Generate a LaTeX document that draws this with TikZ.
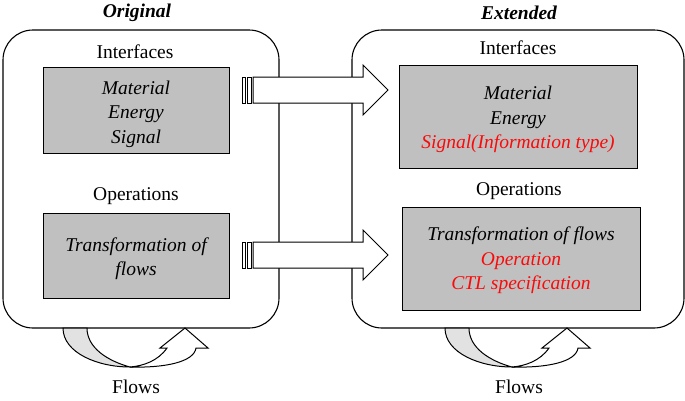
\documentclass[tikz,border=0pt]{standalone}
\usepackage{fontspec}
\setmainfont{Liberation Serif}
\usetikzlibrary{positioning}

\definecolor{boxgray}{RGB}{192,192,192}
\definecolor{flowgray}{RGB}{226,226,226}
\definecolor{extred}{RGB}{250,10,10}
\newcommand{\diafont}{\fontsize{19.5}{24.5}\selectfont}

\tikzset{
  panel/.style={draw, line width=1.1pt, rounded corners=30pt},
  graybox/.style={draw, line width=1pt, fill=boxgray},
  boxtext/.style={align=center, font=\diafont\itshape},
  caption/.style={font=\diafont},
  heading/.style={font=\diafont\bfseries\itshape},
  pics/fatarrow/.style={code={
    \draw[line width=0.9pt] (-11,-13) rectangle (-8,13);
    \draw[line width=0.9pt] (-6,-13) rectangle (-2,13);
    \draw[line width=1pt, fill=white] (0,-13) -- (110,-13) -- (110,-25) -- (135,0)
      -- (110,25) -- (110,13) -- (0,13) -- cycle;
  }},
  pics/flowloop/.style={code={
    \draw[line width=1pt, fill=flowgray] (0,0) .. controls (0,25) and (35,39) .. (67,39)
      .. controls (45,33) and (24,20) .. (24,0) -- cycle;
    \draw[line width=1pt, fill=white] (67,39) .. controls (102,40) and (131,34) .. (133,20)
      -- (145,20) -- (122,0) -- (97,20) -- (104,20)
      .. controls (95,33) and (80,38) .. (67,39) -- cycle;
  }}
}

\begin{document}
\begin{tikzpicture}[x=1pt, y=-1pt]
  \useasboundingbox (0,0) rectangle (685,400);

  % the two models
  \node[panel, minimum width=276, minimum height=298] (orig) at (141,179) {};
  \node[panel, minimum width=332, minimum height=298] (ext) at (518,179) {};

  \node[heading] (origtitle) at (137,13) {Original};
  \node[heading] (exttitle) at (519,13) {Extended};

  % original
  \node[caption] (origiflbl) at (135,52) {Interfaces};
  \node[graybox, minimum width=186, minimum height=86] (origif) at (136,110) {};
  \node[boxtext] (origiftxt) at ([yshift=-4pt]origif.center) {Material\\Energy\\Signal};
  \node[caption] (origoplbl) at (136,196) {Operations};
  \node[graybox, minimum width=186, minimum height=85] (origop) at (136,255.5) {};
  \node[boxtext] (origoptxt) at ([yshift=-3pt]origop.center) {Transformation of\\flows};

  % extended
  \node[caption] (extiflbl) at (518,48) {Interfaces};
  \node[graybox, minimum width=238, minimum height=103] (extif) at (518,116.5) {};
  \node[boxtext] (extiftxt) at ([yshift=-3pt]extif.center)
    {Material\\Energy\\\textcolor{extred}{Signal(Information type)}};
  \node[caption] (extoplbl) at (519,191) {Operations};
  \node[graybox, minimum width=238, minimum height=103] (extop) at (521,258.5) {};
  \node[boxtext] (extoptxt) at ([yshift=-2pt]extop.center)
    {Transformation of flows\\\textcolor{extred}{Operation}\\\textcolor{extred}{CTL specification}};

  % extension arrows
  \pic at (253,90) {fatarrow};
  \pic at (253,255) {fatarrow};

  % flows
  \pic at (63,328) {flowloop};
  \pic at (445,328) {flowloop};
  \node[caption] (origflows) at (136,387) {Flows};
  \node[caption] (extflows) at (519,387) {Flows};
\end{tikzpicture}
\end{document}
